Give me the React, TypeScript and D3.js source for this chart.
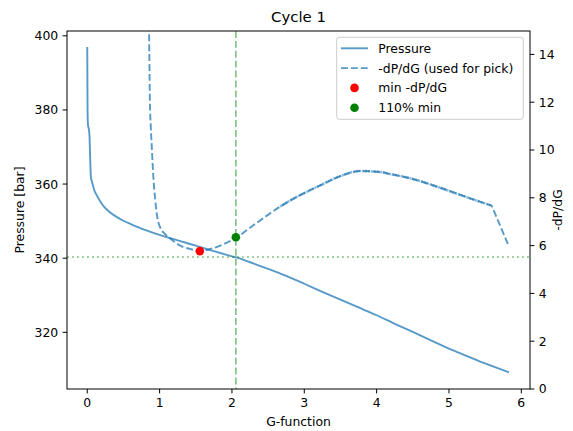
import React from "react";
import * as d3 from "d3";

// Pressure decline vs. G-function
const pressureG = [0, 0.004, 0.01, 0.02, 0.03, 0.05, 0.07, 0.1, 0.13, 0.17, 0.2, 0.25, 0.3, 0.4, 0.5, 0.6, 0.75, 1.0, 1.146, 1.25, 1.5, 1.75, 2.0, 2.058, 2.25, 2.5, 2.75, 3.0, 3.25, 3.5, 3.75, 4.0, 4.25, 4.5, 4.75, 5.0, 5.25, 5.5, 5.83];
const pressureBar = [397.0, 380.0, 376.0, 375.0, 373.3, 362.0, 360.3, 358.2, 357.0, 355.6, 354.7, 353.5, 352.6, 351.2, 350.1, 349.2, 348.0, 346.3, 345.4, 344.8, 343.4, 341.9, 340.5, 340.2, 338.9, 337.1, 335.2, 333.1, 330.9, 328.8, 326.7, 324.6, 322.3, 320.1, 317.8, 315.6, 313.6, 311.6, 309.2];

// Derivative -dP/dG
const derivG = [0.85, 0.858, 0.866, 0.878, 0.894, 0.915, 0.94, 0.97, 1.01, 1.07, 1.146, 1.285, 1.42, 1.556, 1.7, 1.84, 2.058, 2.3, 2.666, 2.8, 3.0, 3.22, 3.49, 3.77, 4.05, 4.18, 4.46, 4.88, 5.29, 5.59, 5.82];
const derivVal = [16.5, 14.0, 12.0, 11.0, 10.0, 8.8, 7.9, 7.15, 6.75, 6.5, 6.3, 6.0, 5.86, 5.77, 5.86, 6.0, 6.33, 6.86, 7.63, 7.88, 8.2, 8.52, 8.9, 9.12, 9.08, 9.0, 8.82, 8.42, 7.98, 7.67, 6.03];

// Picks
const minPick = { g: 1.556, value: 5.77 };
const closurePick = { g: 2.054, value: 6.35 };
const closurePressure = 340.3;

const xTicks = [0, 1, 2, 3, 4, 5, 6];
const leftTicks = [320, 340, 360, 380, 400];
const rightTicks = [0, 2, 4, 6, 8, 10, 12, 14];

const legendLabels = ["Pressure", "-dP/dG (used for pick)", "min -dP/dG", "110% min"];

const W = 573;
const H = 431;
const M = { left: 67, right: 530, top: 31, bottom: 389 };
const FONT = "DejaVu Sans, sans-serif";
const BLUE = "#1f77b4";

export default function App() {
  const x = d3.scaleLinear().domain([-0.28, 6.12]).range([M.left, M.right]);
  const yL = d3.scaleLinear().domain([304.7, 401.3]).range([M.bottom, M.top]);
  const yR = d3.scaleLinear().domain([0, 14.98]).range([M.bottom, M.top]);

  const pressurePts = pressureG.map((g, i) => [g, pressureBar[i]] as [number, number]);
  const derivPts = derivG.map((g, i) => [g, derivVal[i]] as [number, number]);

  const lineL = d3.line<[number, number]>().x((d) => x(d[0])).y((d) => yL(d[1])).curve(d3.curveMonotoneX);
  const lineR = d3.line<[number, number]>().x((d) => x(d[0])).y((d) => yR(d[1])).curve(d3.curveMonotoneX);

  // smooth body of the derivative, then a straight drop for the final step
  const bodyPts = derivPts.slice(0, -1);
  const last = derivPts[derivPts.length - 1];
  const derivPath = (lineR(bodyPts) ?? "") + `L${x(last[0])},${yR(last[1])}`;

  // dense stretch of the derivative drawn with a tight dash
  const densePts = derivPts.filter((d) => d[0] >= 2.6 && d[0] <= 5.59);

  const tickLen = 4.4;
  const fs = 12.4;

  return (
    <svg width={W} height={H} style={{ position: "absolute", left: 0, top: 0, background: "#fff" }} fontFamily={FONT}>
      <defs>
        <clipPath id="plotArea">
          <rect x={M.left} y={M.top} width={M.right - M.left} height={M.bottom - M.top} />
        </clipPath>
      </defs>
      <rect x={0} y={0} width={W} height={H} fill="#fff" />

      <g clipPath="url(#plotArea)">
        {/* pressure */}
        <path d={lineL(pressurePts) ?? ""} fill="none" stroke={BLUE} strokeOpacity={0.75} strokeWidth={1.9} />
        {/* reference lines */}
        <line x1={x(closurePick.g)} x2={x(closurePick.g)} y1={M.top} y2={M.bottom} stroke="#008000" strokeOpacity={0.5} strokeWidth={1.6} strokeDasharray="6.9,3" />
        <line x1={M.left} x2={M.right} y1={yL(closurePressure)} y2={yL(closurePressure)} stroke="#008000" strokeOpacity={0.5} strokeWidth={1.6} strokeDasharray="1.9,3.1" />
        {/* derivative */}
        <path d={derivPath} fill="none" stroke={BLUE} strokeOpacity={0.75} strokeWidth={1.9} strokeDasharray="6.9,3" />
        <path d={lineR(densePts) ?? ""} fill="none" stroke={BLUE} strokeOpacity={0.5} strokeWidth={2.6} strokeDasharray="2.2,0.8" />
        {/* picks */}
        <circle cx={x(minPick.g)} cy={yR(minPick.value)} r={4.3} fill="#ff0000" />
        <circle cx={x(closurePick.g)} cy={yR(closurePick.value)} r={4.3} fill="#008000" />
      </g>

      {/* frame */}
      <rect x={M.left} y={M.top} width={M.right - M.left} height={M.bottom - M.top} fill="none" stroke="#000" strokeWidth={1} />

      {/* x axis */}
      {xTicks.map((t) => (
        <g key={"x" + t}>
          <line x1={x(t)} x2={x(t)} y1={M.bottom} y2={M.bottom + tickLen} stroke="#000" strokeWidth={1} />
          <text x={x(t)} y={407} fontSize={fs} textAnchor="middle" fill="#000">{t}</text>
        </g>
      ))}
      <text x={(M.left + M.right) / 2} y={426} fontSize={fs} textAnchor="middle" fill="#000">G-function</text>

      {/* left axis */}
      {leftTicks.map((t) => (
        <g key={"l" + t}>
          <line x1={M.left - tickLen} x2={M.left} y1={yL(t)} y2={yL(t)} stroke="#000" strokeWidth={1} />
          <text x={M.left - tickLen - 4.4} y={yL(t)} dy="0.36em" fontSize={fs} textAnchor="end" fill="#000">{t}</text>
        </g>
      ))}
      <text transform={`translate(23.5,${(M.top + M.bottom) / 2}) rotate(-90)`} fontSize={fs} textAnchor="middle" fill="#000">Pressure [bar]</text>

      {/* right axis */}
      {rightTicks.map((t) => (
        <g key={"r" + t}>
          <line x1={M.right} x2={M.right + tickLen} y1={yR(t)} y2={yR(t)} stroke="#000" strokeWidth={1} />
          <text x={M.right + tickLen + 4.4} y={yR(t)} dy="0.36em" fontSize={fs} textAnchor="start" fill="#000">{t}</text>
        </g>
      ))}
      <text transform={`translate(562,${(M.top + M.bottom) / 2}) rotate(-90)`} fontSize={fs} textAnchor="middle" fill="#000">-dP/dG</text>

      {/* title */}
      <text x={(M.left + M.right) / 2} y={22} fontSize={14.9} textAnchor="middle" fill="#000">Cycle 1</text>

      {/* legend */}
      <g>
        <rect x={336.7} y={37.3} width={186.6} height={82} rx={2.5} fill="#fff" fillOpacity={0.8} stroke="#cccccc" strokeWidth={1} />
        {legendLabels.map((lab, i) => {
          const cy = 48.3 + i * 19.8;
          return (
            <g key={lab}>
              {i === 0 && <line x1={341} x2={368} y1={cy} y2={cy} stroke={BLUE} strokeOpacity={0.75} strokeWidth={1.9} />}
              {i === 1 && <line x1={341} x2={368} y1={cy} y2={cy} stroke={BLUE} strokeOpacity={0.75} strokeWidth={1.9} strokeDasharray="6.9,3" />}
              {i === 2 && <circle cx={354.5} cy={cy} r={4.3} fill="#ff0000" />}
              {i === 3 && <circle cx={354.5} cy={cy} r={4.3} fill="#008000" />}
              <text x={378.3} y={cy} dy="0.36em" fontSize={fs} fill="#000">{lab}</text>
            </g>
          );
        })}
      </g>
    </svg>
  );
}
